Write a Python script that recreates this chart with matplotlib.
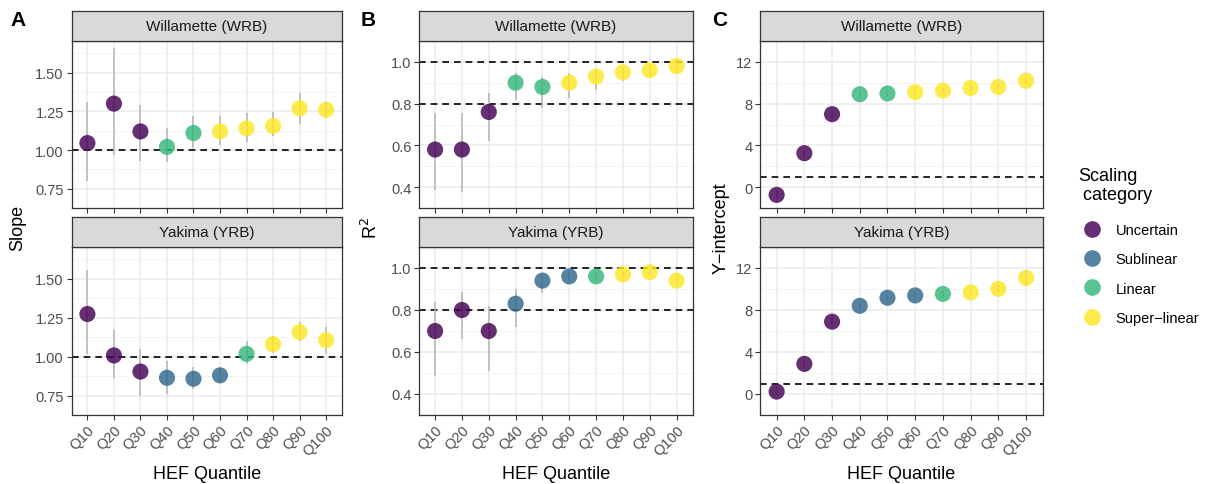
import matplotlib
matplotlib.use("Agg")
import matplotlib.pyplot as plt
from matplotlib.lines import Line2D
import numpy as np

plt.rcParams['font.family'] = ['Liberation Sans', 'DejaVu Sans']

quantiles = ['Q10', 'Q20', 'Q30', 'Q40', 'Q50', 'Q60', 'Q70', 'Q80', 'Q90', 'Q100']
basins = ['Willamette (WRB)', 'Yakima (YRB)']
categories = ['Uncertain', 'Sublinear', 'Linear', 'Super-linear']
legend_labels = ['Uncertain', 'Sublinear', 'Linear', 'Super\u2212linear']
cat_colors = ['#440154', '#31688E', '#35B779', '#FDE725']

cat_wrb = ['Uncertain', 'Uncertain', 'Uncertain', 'Linear', 'Linear',
           'Super-linear', 'Super-linear', 'Super-linear', 'Super-linear', 'Super-linear']
cat_yrb = ['Uncertain', 'Uncertain', 'Uncertain', 'Sublinear', 'Sublinear',
           'Sublinear', 'Linear', 'Super-linear', 'Super-linear', 'Super-linear']

slope_wrb = [1.045, 1.30, 1.12, 1.02, 1.11, 1.12, 1.14, 1.155, 1.27, 1.26]
slope_wrb_lo = [0.80, 0.97, 0.93, 0.92, 1.01, 1.03, 1.05, 1.09, 1.17, 1.21]
slope_wrb_hi = [1.31, 1.66, 1.29, 1.14, 1.22, 1.22, 1.24, 1.245, 1.37, 1.31]
slope_yrb = [1.274, 1.008, 0.904, 0.864, 0.858, 0.88, 1.018, 1.08, 1.158, 1.106]
slope_yrb_lo = [1.014, 0.864, 0.744, 0.758, 0.794, 0.83, 0.95, 1.024, 1.10, 1.014]
slope_yrb_hi = [1.554, 1.174, 1.05, 0.974, 0.934, 0.93, 1.098, 1.134, 1.22, 1.19]

r2_wrb = [0.58, 0.58, 0.76, 0.90, 0.88, 0.90, 0.93, 0.95, 0.96, 0.98]
r2_wrb_lo = [0.385, 0.375, 0.621, 0.819, 0.778, 0.825, 0.866, 0.91, 0.93, 0.96]
r2_wrb_hi = [0.757, 0.757, 0.849, 0.948, 0.928, 0.948, 0.962, 0.975, 0.99, 1.0]
r2_yrb = [0.70, 0.80, 0.70, 0.83, 0.94, 0.96, 0.96, 0.97, 0.98, 0.94]
r2_yrb_lo = [0.488, 0.661, 0.508, 0.718, 0.881, 0.94, 0.94, 0.955, 0.965, 0.92]
r2_yrb_hi = [0.836, 0.888, 0.82, 0.898, 0.969, 0.98, 0.98, 0.985, 0.995, 0.96]

int_wrb = [-0.74, 3.25, 6.99, 8.9, 8.97, 9.1, 9.25, 9.5, 9.6, 10.19]
int_wrb_lo = [-1.06, 2.9, 6.6, 8.6, 8.7, 8.8, 8.95, 9.2, 9.3, 9.85]
int_wrb_hi = [-0.4, 3.6, 7.35, 9.2, 9.25, 9.4, 9.55, 9.8, 9.9, 10.5]
int_yrb = [0.23, 2.87, 6.89, 8.4, 9.17, 9.39, 9.53, 9.68, 10.02, 11.06]
int_yrb_lo = [-0.2, 2.5, 6.5, 8.1, 8.9, 9.1, 9.25, 9.4, 9.7, 10.3]
int_yrb_hi = [0.65, 3.25, 7.3, 8.7, 9.45, 9.7, 9.8, 9.95, 10.35, 11.85]

W, H = 1205, 485
fig = plt.figure(figsize=(W / 100, H / 100), dpi=100)

def px_axes(x0, y0, x1, y1):
    return fig.add_axes([x0 / W, 1 - y1 / H, (x1 - x0) / W, (y1 - y0) / H])

panels = [
    dict(letter='A', lx=10, yl=18, x0=71.5, x1=342, ylabel='Slope', ylim=(0.695, 1.705),
         yticks=[0.75, 1.00, 1.25, 1.50], yfmt='{:.2f}', hlines=[1.0],
         data=[(slope_wrb, slope_wrb_lo, slope_wrb_hi, cat_wrb),
               (slope_yrb, slope_yrb_lo, slope_yrb_hi, cat_yrb)]),
    dict(letter='B', lx=361, yl=371, x0=419, x1=692.7, ylabel='R$^2$', ylim=(0.345, 1.03),
         yticks=[0.4, 0.6, 0.8, 1.0], yfmt='{:.1f}', hlines=[0.8, 1.0],
         data=[(r2_wrb, r2_wrb_lo, r2_wrb_hi, cat_wrb),
               (r2_yrb, r2_yrb_lo, r2_yrb_hi, cat_yrb)]),
    dict(letter='C', lx=712, yl=721, x0=760, x1=1042.7, ylabel='Y\u2212intercept',
         ylim=(-1.70, 12.48), yticks=[0, 4, 8, 12], yfmt='{:d}', hlines=[1.0],
         data=[(int_wrb, int_wrb_lo, int_wrb_hi, cat_wrb),
               (int_yrb, int_yrb_lo, int_yrb_hi, cat_yrb)]),
]

rows = [(12, 42, 209), (218, 248, 416)]
xpos = np.arange(len(quantiles))
color_of = dict(zip(categories, cat_colors))
tick_col = '#4D4D4D'
border_col = '#333333'

for p in panels:
    for r, (s0, s1, s2) in enumerate(rows):
        vals, lo, hi, cats = p['data'][r]
        ax = px_axes(p['x0'], s1, p['x1'], s2)
        ax.set_xlim(-0.6, len(quantiles) - 0.4)
        ax.set_ylim(*p['ylim'])
        yt = p['yticks']
        ax.set_yticks(yt)
        ax.set_yticklabels([p['yfmt'].format(v) for v in yt])
        minor = [(a + b) / 2 for a, b in zip(yt[:-1], yt[1:])]
        step = yt[1] - yt[0]
        minor = [yt[0] - step / 2] + minor + [yt[-1] + step / 2]
        ax.set_yticks(minor, minor=True)
        ax.set_xticks(xpos)
        ax.grid(True, which='major', color='#EBEBEB', lw=1.1, zorder=0)
        ax.grid(True, which='minor', axis='y', color='#F2F2F2', lw=0.6, zorder=0)
        ax.set_axisbelow(True)
        for sp in ax.spines.values():
            sp.set_color(border_col)
            sp.set_linewidth(0.9)
        ax.tick_params(axis='both', which='major', length=3.5, width=0.8, color=border_col,
                       labelsize=10.5, labelcolor=tick_col, pad=2)
        ax.tick_params(axis='y', which='minor', length=0)
        for h in p['hlines']:
            ax.axhline(h, color='black', lw=1.2, ls=(0, (4, 3)), zorder=2)
        ax.vlines(xpos, lo, hi, color='#B3B3B3', lw=1.1, zorder=3)
        cols = [color_of[c] for c in cats]
        ax.scatter(xpos, vals, s=135, c=cols, alpha=0.82, edgecolors='none', zorder=4)
        if r == 0:
            ax.set_xticklabels([])
        else:
            ax.set_xticklabels(quantiles, rotation=45, ha='right', va='top',
                               rotation_mode='anchor')
            ax.set_xlabel('HEF Quantile', fontsize=13, labelpad=5)
        # strip
        sax = px_axes(p['x0'], s0, p['x1'], s1)
        sax.set_xticks([]); sax.set_yticks([])
        sax.set_facecolor('#D9D9D9')
        for sp in sax.spines.values():
            sp.set_color(border_col)
            sp.set_linewidth(0.9)
        sax.text(0.5, 0.5, basins[r], ha='center', va='center', fontsize=11,
                 color='#1A1A1A', transform=sax.transAxes)
    fig.text(p['yl'] / W, 1 - 228 / H, p['ylabel'], rotation=90,
             ha='center', va='center', fontsize=13)
    fig.text(p['lx'] / W, 1 - 20 / H, p['letter'], ha='left', va='center',
             fontsize=15, fontweight='bold')

handles = [Line2D([], [], marker='o', ls='none', markersize=12, color=c, alpha=0.82,
                  markeredgewidth=0) for c in cat_colors]
leg = fig.legend(handles, legend_labels, loc='upper left',
                 bbox_to_anchor=(1072 / W, 1 - 162 / H), frameon=False,
                 title='Scaling\n category', fontsize=10.5, title_fontsize=13,
                 labelspacing=1.05, handletextpad=0.6, borderaxespad=0)
leg._legend_box.align = 'left'
leg._legend_box.sep = 14

fig.savefig('out.png', dpi=100)
